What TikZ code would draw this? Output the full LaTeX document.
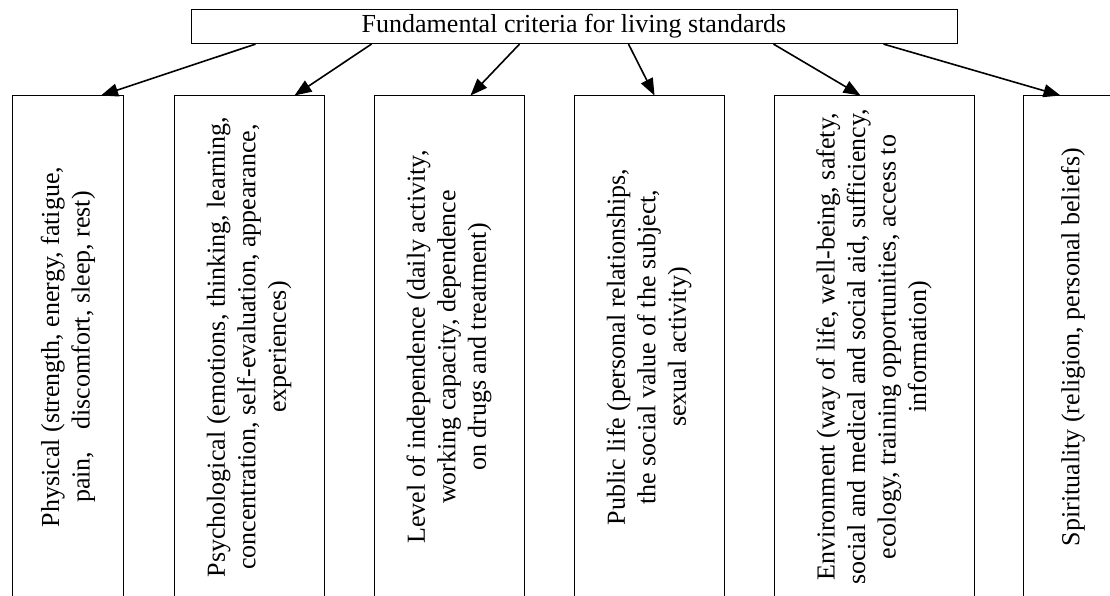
\documentclass[tikz,border=0pt]{standalone}
\usepackage{fontspec}
\setmainfont{Liberation Serif}
\usetikzlibrary{arrows.meta}

\tikzset{
  critbox/.style = {draw = black, line width = 1pt, inner sep = 0pt},
  critarrow/.style = {line width = 1.6pt, -{Triangle[length = 17pt, width = 13pt]}},
  crittext/.style = {rotate = 90, align = center, font = \fontsize{26}{30.5}\selectfont},
}

\begin{document}
\begin{tikzpicture}[x = 1pt, y = -1pt]
\useasboundingbox (0,0) rectangle (1110,596);
\node[critbox, minimum width = 766pt, minimum height = 34pt, font = \fontsize{26}{30}\selectfont] (crit) at (574,26.6) {Fundamental criteria for living standards};
\foreach \name/\x/\w in {phys/68/111, psych/249/150, indep/449/150, publ/649/150, envir/874/200, spirit/1073/100}
  \node[critbox, minimum width = \w pt, minimum height = 502pt] (\name) at (\x,347) {};
\node[crittext] (physt) at (phys) {Physical (strength, energy, fatigue,\\ pain,\hspace{0.6em} discomfort, sleep, rest)};
\node[crittext] (psycht) at (psych) {Psychological (emotions, thinking, learning,\\ concentration, self-evaluation, appearance,\\ experiences)};
\node[crittext] (indept) at (indep) {Level of independence (daily activity,\\ working capacity, dependence\\ on drugs and treatment)};
\node[crittext] (publt) at (publ) {Public life (personal relationships,\\ the social value of the subject,\\ sexual activity)};
\node[crittext] (envirt) at (envir) {Environment (way of life,\ well-being, safety,\\ social and medical and social aid, sufficiency,\\ ecology, training opportunities, access to\\ information)};
\node[crittext] (spiritt) at (spirit) {Spirituality (religion, personal beliefs)};
\foreach \name/\a/\b in {phys/65/89, psych/181/121, indep/329/97, publ/438/81, envir/583/87, spirit/693/38}
  \draw[critarrow] ([xshift = \a pt]crit.south west) -- ([xshift = \b pt]\name.north west);
\end{tikzpicture}
\end{document}
